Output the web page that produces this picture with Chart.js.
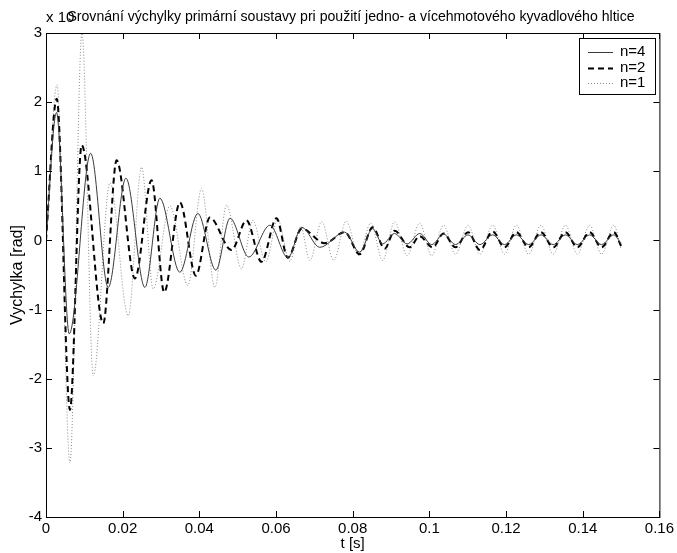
<!DOCTYPE html>
<html>
<head>
<meta charset="utf-8">
<script src="https://cdn.jsdelivr.net/npm/chart.js@4/dist/chart.umd.min.js"></script>
<style>
  html, body { margin: 0; padding: 0; background: #fff; }
</style>
</head>
<body>
<canvas id="kyvadlo" width="677" height="553"></canvas>
<script>
// osy
const xTicks = [0, 0.02, 0.04, 0.06, 0.08, 0.1, 0.12, 0.14, 0.16];
const yTicks = [-4, -3, -2, -1, 0, 1, 2, 3];

// n=4 (plna cara) - extremy
const n4T = [0, 0.00274, 0.00607, 0.01165, 0.01623, 0.02085, 0.0258, 0.0297, 0.0349, 0.0396, 0.0443,
  0.048, 0.0529, 0.0584, 0.0631, 0.0667, 0.0714, 0.0779, 0.0818, 0.0852, 0.0878, 0.0909, 0.0942,
  0.0975, 0.1006, 0.1037, 0.1068, 0.1101, 0.1132, 0.1165, 0.1196, 0.1227, 0.1259, 0.1291, 0.1323,
  0.1355, 0.1386, 0.1418, 0.1449, 0.1481, 0.15];
const n4V = [0, 1.85, -1.35, 1.26, -0.68, 0.9, -0.68, 0.61, -0.46, 0.39, -0.43,
  0.32, -0.24, 0.22, -0.25, 0.19, -0.1, 0.12, -0.17, 0.17, -0.05, 0.1, -0.05,
  0.1, -0.06, 0.09, -0.06, 0.08, -0.06, 0.08, -0.06, 0.08, -0.06, 0.08, -0.06,
  0.08, -0.06, 0.08, -0.06, 0.08, -0.05];

// n=2 (carkovana)
const n2T = [0, 0.00279, 0.00625, 0.0093, 0.01493, 0.01842, 0.02319, 0.02754, 0.03083, 0.03492, 0.03909,
  0.04274, 0.04839, 0.0523, 0.05621, 0.06012, 0.06306, 0.06671, 0.0727, 0.07791, 0.08182, 0.08521,
  0.08834, 0.09094, 0.09485, 0.09746, 0.10085, 0.1037, 0.1068, 0.1101, 0.1132, 0.1165, 0.1196,
  0.1227, 0.1259, 0.1291, 0.1323, 0.1355, 0.1386, 0.1418, 0.1449, 0.1481, 0.15];
const n2V = [0, 2.05, -2.45, 1.38, -1.2, 1.16, -0.55, 0.87, -0.75, 0.55, -0.51,
  0.33, -0.14, 0.29, -0.31, 0.32, -0.25, 0.17, -0.04, 0.12, -0.2, 0.19,
  -0.12, 0.14, -0.1, 0.06, -0.1, 0.1, -0.1, 0.12, -0.14, 0.13, -0.1,
  0.12, -0.1, 0.12, -0.1, 0.12, -0.1, 0.12, -0.1, 0.12, -0.08];

// n=1 (teckovana)
const n1T = [0, 0.00287, 0.00625, 0.00938, 0.01233, 0.01668, 0.02145, 0.02494, 0.02796, 0.03231, 0.037,
  0.04057, 0.04404, 0.04709, 0.051, 0.05394, 0.05733, 0.06046, 0.06358, 0.06645, 0.0688, 0.07192,
  0.07505, 0.07831, 0.08156, 0.08469, 0.08782, 0.09094, 0.0942, 0.09746, 0.10059, 0.1037, 0.1068,
  0.1101, 0.1132, 0.1165, 0.1196, 0.1227, 0.1259, 0.1291, 0.1323, 0.1355, 0.1386, 0.1418, 0.1449,
  0.1481, 0.15];
const n1V = [0, 2.25, -3.22, 3.0, -1.96, 0.83, -1.09, 1.06, -0.7, 0.5, -0.65,
  0.75, -0.68, 0.51, -0.41, 0.29, -0.31, 0.3, -0.3, 0.2, -0.29, 0.27,
  -0.29, 0.28, -0.22, 0.25, -0.29, 0.27, -0.22, 0.25, -0.22, 0.22, -0.2,
  0.22, -0.2, 0.22, -0.2, 0.22, -0.2, 0.22, -0.2, 0.22, -0.2, 0.22, -0.2,
  0.22, -0.12];

const FONT = '"Liberation Sans", Arial, sans-serif';
Chart.defaults.font.family = FONT;
Chart.defaults.color = "#000";

const toPts = (ts, vs) => ts.map((t, i) => ({ x: t, y: vs[i] }));

// ramecek, tiky dovnitr, titulek a legenda jako v Matlabu
const matlabBox = {
    id: "matlabBox",
    afterDraw(chart) {
        const { ctx, chartArea: a, scales: { x, y } } = chart;
        ctx.save();
        ctx.strokeStyle = "#000";
        ctx.lineWidth = 1;
        ctx.strokeRect(a.left + 0.5, a.top + 0.5, a.right - a.left, a.bottom - a.top);
        ctx.beginPath();
        xTicks.forEach(v => {
            const px = Math.round(x.getPixelForValue(v)) + 0.5;
            ctx.moveTo(px, a.bottom); ctx.lineTo(px, a.bottom - 6);
            ctx.moveTo(px, a.top); ctx.lineTo(px, a.top + 6);
        });
        yTicks.forEach(v => {
            const py = Math.round(y.getPixelForValue(v)) + 0.5;
            ctx.moveTo(a.left, py); ctx.lineTo(a.left + 6, py);
            ctx.moveTo(a.right, py); ctx.lineTo(a.right - 6, py);
        });
        ctx.stroke();

        ctx.fillStyle = "#000";
        ctx.textBaseline = "middle";
        ctx.font = "15px " + FONT;
        ctx.textAlign = "left";
        ctx.fillText("x 10", a.left, 18);
        ctx.font = "14.1px " + FONT;
        ctx.textAlign = "center";
        ctx.fillText("Srovnání výchylky primární soustavy pri použití jedno- a vícehmotového kyvadlového hltice", 351, 17);

        // legenda
        const lx = 579, ly = 38, lw = 76, lh = 56;
        ctx.fillStyle = "#fff";
        ctx.fillRect(lx, ly, lw, lh);
        ctx.strokeRect(lx + 0.5, ly + 0.5, lw, lh);
        ctx.font = "15px " + FONT;
        ctx.textAlign = "left";
        chart.data.datasets.forEach((ds, i) => {
            const cy = ly + 14 + i * 15.5;
            ctx.save();
            ctx.strokeStyle = ds.borderColor;
            ctx.lineWidth = ds.borderWidth;
            ctx.setLineDash(ds.borderDash || []);
            ctx.beginPath();
            ctx.moveTo(lx + 9, Math.round(cy) + 0.5);
            ctx.lineTo(lx + 34, Math.round(cy) + 0.5);
            ctx.stroke();
            ctx.restore();
            ctx.fillStyle = "#000";
            ctx.fillText(ds.label, lx + 41, cy);
        });
        ctx.restore();
    }
};

new Chart(document.getElementById("kyvadlo"), {
    type: "scatter",
    data: {
        datasets: [
            { label: "n=4", data: toPts(n4T, n4V), borderColor: "#3a3a3a", borderWidth: 1 },
            { label: "n=2", data: toPts(n2T, n2V), borderColor: "#000", borderWidth: 2, borderDash: [6, 4] },
            { label: "n=1", data: toPts(n1T, n1V), borderColor: "#8a8a8a", borderWidth: 1, borderDash: [1, 2] }
        ]
    },
    options: {
        responsive: false,
        animation: false,
        showLine: true,
        datasets: { scatter: { showLine: true, cubicInterpolationMode: "monotone", pointRadius: 0 } },
        layout: { padding: { top: 33, right: 17, left: 0, bottom: 0 } },
        plugins: { legend: { display: false }, tooltip: { enabled: false } },
        scales: {
            x: {
                type: "linear", min: 0, max: 0.16,
                afterBuildTicks: s => { s.ticks = xTicks.map(v => ({ value: v })); },
                afterFit: s => { s.height = 36; },
                grid: { display: false, drawTicks: false },
                border: { display: false },
                ticks: { padding: 3, font: { size: 15 }, maxRotation: 0, callback: v => String(+v.toFixed(2)) },
                title: { display: true, text: "t [s]", font: { size: 15 }, padding: { top: 0, bottom: 0 } }
            },
            y: {
                type: "linear", min: -4, max: 3,
                afterBuildTicks: s => { s.ticks = yTicks.map(v => ({ value: v })); },
                afterFit: s => { s.width = 46; },
                grid: { display: false, drawTicks: false },
                border: { display: false },
                ticks: { padding: 4, font: { size: 15 }, callback: v => String(v) },
                title: { display: true, text: "Vychylka [rad]", font: { size: 16 }, padding: { top: 7.5, bottom: 0 } }
            }
        }
    },
    plugins: [matlabBox]
});
</script>
</body>
</html>
